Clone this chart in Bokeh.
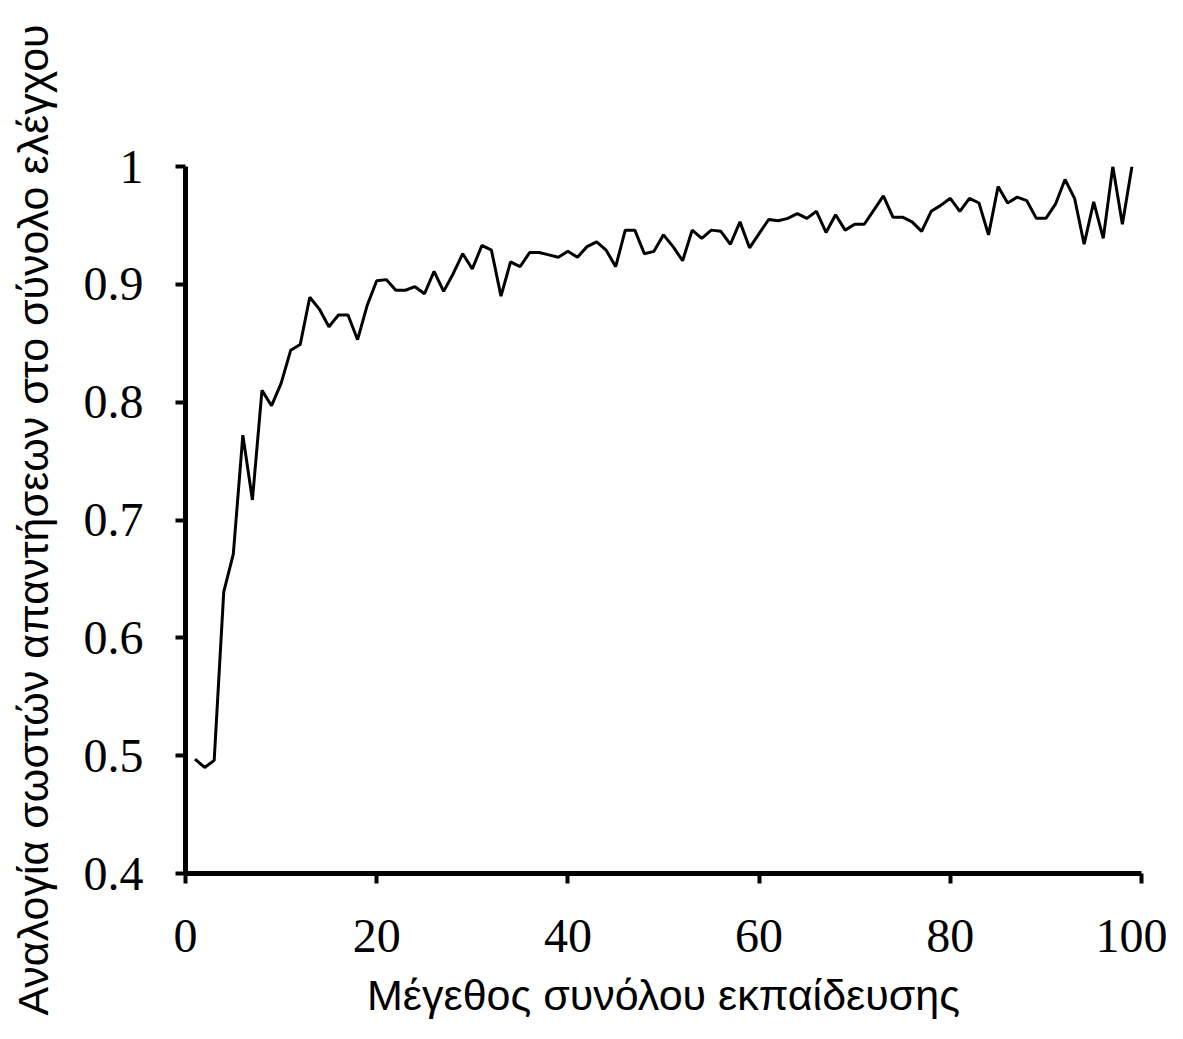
from bokeh.plotting import figure
from bokeh.models import Range1d, FixedTicker
from bokeh.embed import file_html
from bokeh.resources import INLINE

# Data
train_size = list(range(1, 100))
accuracy = [
    0.497, 0.490, 0.496, 0.639, 0.671, 0.772, 0.717, 0.810, 0.797, 0.816,
    0.844, 0.849, 0.889, 0.879, 0.864, 0.874, 0.874, 0.853, 0.882, 0.903,
    0.904, 0.895, 0.895, 0.898, 0.892, 0.911, 0.894, 0.909, 0.926, 0.913,
    0.933, 0.929, 0.890, 0.919, 0.915, 0.927, 0.927, 0.925, 0.923, 0.928,
    0.923, 0.932, 0.936, 0.929, 0.915, 0.946, 0.946, 0.926, 0.928, 0.942,
    0.932, 0.920, 0.946, 0.939, 0.946, 0.945, 0.934, 0.953, 0.931, 0.943,
    0.955, 0.954, 0.956, 0.960, 0.956, 0.962, 0.944, 0.959, 0.946, 0.951,
    0.951, 0.963, 0.975, 0.957, 0.957, 0.953, 0.945, 0.962, 0.967, 0.973,
    0.962, 0.973, 0.969, 0.942, 0.983, 0.969, 0.974, 0.971, 0.956, 0.956,
    0.968, 0.989, 0.973, 0.934, 0.970, 0.939, 1.000, 0.951, 1.000,
]
x_ticks = [0, 20, 40, 60, 80, 100]
y_ticks = [0.4, 0.5, 0.6, 0.7, 0.8, 0.9, 1]
y_tick_labels = ["0.4", "0.5", "0.6", "0.7", "0.8", "0.9", "1"]
x_label = "Μέγεθος συνόλου εκπαίδευσης"
y_label = "Αναλογία σωστών απαντήσεων στο σύνολο ελέγχου"

p = figure(width=1167, height=1023, output_backend="svg", toolbar_location=None,
           x_range=Range1d(0, 100), y_range=Range1d(0.4, 1.0),
           min_border_left=185, min_border_right=26, min_border_top=166,
           min_border_bottom=150)

p.line(train_size, accuracy, line_color="black", line_width=3)

p.outline_line_color = None
p.grid.visible = False
p.background_fill_color = "white"
p.border_fill_color = "white"

p.xaxis.ticker = FixedTicker(ticks=x_ticks)
p.yaxis.ticker = FixedTicker(ticks=y_ticks)
p.yaxis.major_label_overrides = {t: l for t, l in zip(y_ticks, y_tick_labels)}

for ax in (p.xaxis[0], p.yaxis[0]):
    ax.axis_line_color = "black"
    ax.axis_line_width = 5
    ax.major_tick_line_color = "black"
    ax.major_tick_line_width = 4
    ax.major_tick_out = 10
    ax.major_tick_in = 0
    ax.minor_tick_line_color = None
    ax.major_label_text_font = "Liberation Serif"
    ax.major_label_text_font_size = "48px"
    ax.major_label_text_color = "black"
    ax.axis_label_text_font = "Liberation Sans"
    ax.axis_label_text_font_style = "normal"
    ax.axis_label_text_color = "black"

p.xaxis.axis_label = x_label
p.yaxis.axis_label = y_label
p.xaxis.axis_label_text_font_size = "43px"
p.yaxis.axis_label_text_font_size = "43px"
p.xaxis.major_label_standoff = 36
p.yaxis.major_label_standoff = 32
p.xaxis.axis_label_standoff = 16
p.yaxis.axis_label_standoff = 24

open("out.html", "w").write(file_html(p, INLINE))
